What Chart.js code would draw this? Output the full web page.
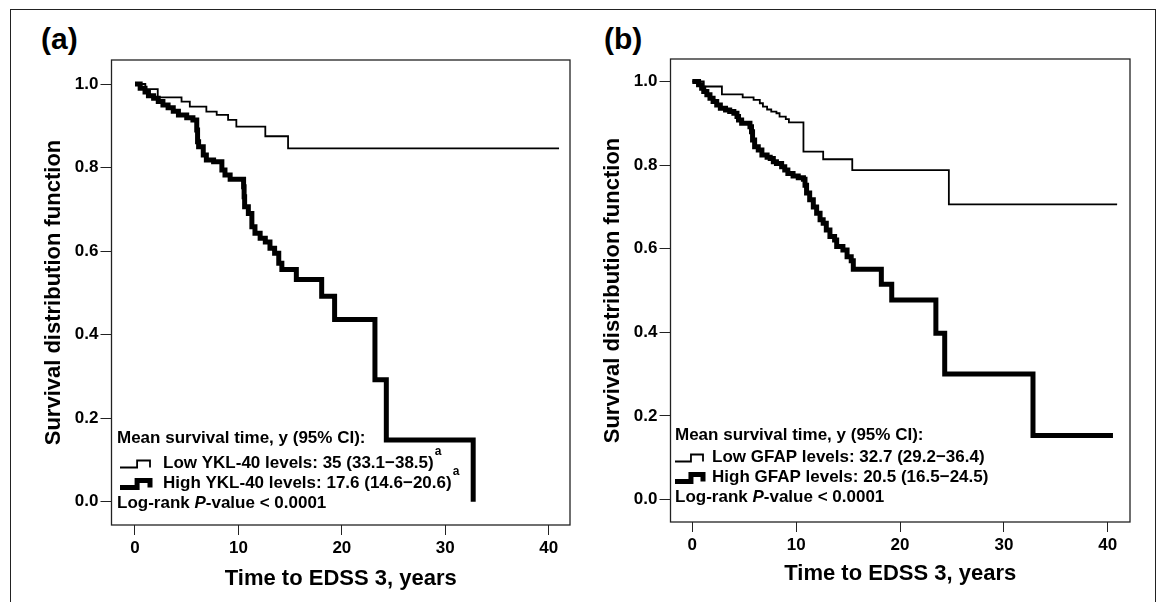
<!DOCTYPE html>
<html>
<head>
<meta charset="utf-8">
<script src="https://cdn.jsdelivr.net/npm/chart.js@4.4.1/dist/chart.umd.min.js"></script>
<style>
  html, body { margin: 0; padding: 0; background: #fff; }
  body { width: 1164px; height: 602px; position: relative; overflow: hidden; font-family: 'Liberation Sans', Arial, sans-serif; }
  .frame { position: absolute; left: 10px; top: 9px; width: 1146px; height: 700px; border: 1px solid #222; box-sizing: border-box; }
  canvas { position: absolute; top: 0; }
  #chartA { left: 0; }
  #chartB { left: 585px; }
  .tag { position: absolute; top: 24px; font-weight: bold; font-size: 30px; line-height: 1; color: #000; }
</style>
</head>
<body>
<div class="frame"></div>
<div class="tag" style="left:41px">(a)</div>
<div class="tag" style="left:604px">(b)</div>
<canvas id="chartA" width="585" height="602"></canvas>
<canvas id="chartB" width="579" height="602"></canvas>
<script>
const FONT = "'Liberation Sans', Arial, Helvetica, sans-serif";

// time (years) at each step and survival after it
const lowA_t = [0, 1.0, 2.2, 4.5, 5.3, 6.9, 7.9, 9.0, 9.8, 12.6, 14.8, 41.0];
const lowA_s = [1, 0.988, 0.968, 0.958, 0.946, 0.934, 0.926, 0.914, 0.898, 0.875, 0.846, 0.846];
const highA_t = [0, 0.5, 0.97, 1.3, 1.8, 2.25, 2.7, 3.2, 3.7, 4.2, 5.0, 5.6, 5.97, 6.05, 6.15, 6.6, 6.9, 7.6, 8.4, 8.7,
  9.2, 10.5, 10.55, 10.6, 10.96, 11.3, 11.6, 12.1, 12.6, 13.05, 13.5, 13.9, 14.2, 15.6, 18.05, 19.3, 23.2, 24.3, 32.7];
const highA_s = [1, 0.99, 0.981, 0.972, 0.966, 0.958, 0.95, 0.943, 0.935, 0.926, 0.919, 0.914, 0.89, 0.862, 0.85, 0.83, 0.818, 0.814, 0.794, 0.782,
  0.772, 0.754, 0.73, 0.706, 0.69, 0.658, 0.643, 0.631, 0.622, 0.607, 0.595, 0.571, 0.556, 0.532, 0.492, 0.436, 0.292, 0.148, 0];

const lowB_t = [0, 1.1, 2.85, 4.85, 5.9, 6.5, 6.8, 7.2, 7.6, 8.1, 8.4, 9.0, 9.3, 10.7, 12.6, 15.4, 24.7, 40.9];
const lowB_s = [1, 0.988, 0.969, 0.962, 0.956, 0.948, 0.94, 0.933, 0.928, 0.924, 0.916, 0.91, 0.902, 0.832, 0.814, 0.788, 0.706, 0.706];
const highB_t = [0, 0.6, 0.9, 1.1, 1.4, 1.7, 2.0, 2.35, 2.7, 3.2, 3.6, 4.0, 4.3, 4.45, 4.75, 5.55, 5.7, 5.8, 6.0, 6.35,
  6.7, 7.2, 7.5, 7.8, 8.1, 8.6, 8.9, 9.2, 9.7, 10.2, 10.7, 10.85, 11.0, 11.3, 11.65, 11.97, 12.3, 12.6, 12.9, 13.25,
  13.7, 13.9, 14.5, 14.9, 15.3, 15.5, 18.2, 19.2, 23.45, 24.3, 32.8, 40.5];
const highB_s = [1, 0.992, 0.984, 0.976, 0.968, 0.96, 0.952, 0.944, 0.936, 0.932, 0.928, 0.924, 0.916, 0.908, 0.9, 0.892, 0.88, 0.86, 0.844, 0.836,
  0.824, 0.819, 0.816, 0.808, 0.804, 0.796, 0.788, 0.78, 0.774, 0.77, 0.766, 0.752, 0.733, 0.717, 0.70, 0.685, 0.669, 0.661, 0.645, 0.629,
  0.621, 0.605, 0.597, 0.581, 0.571, 0.551, 0.515, 0.477, 0.398, 0.30, 0.153, 0.153];

const xTicks = [0, 10, 20, 30, 40];
const yTicks = [0, 0.2, 0.4, 0.6, 0.8, 1.0];

const xTitle = 'Time to EDSS 3, years';
const yTitle = 'Survival distribution function';
const legendHead = 'Mean survival time, y (95% CI):';
const labelsA = ['Low YKL-40 levels: 35 (33.1\u221238.5)', 'High YKL-40 levels: 17.6 (14.6\u221220.6)'];
const labelsB = ['Low GFAP levels: 32.7 (29.2\u221236.4)', 'High GFAP levels: 20.5 (16.5\u221224.5)'];

const steps = (ts, ss) => ts.map((t, i) => ({ x: t, y: ss[i] }));

function drawSym(ctx, x0, x1, yc, h, lw) {
  const xm = x0 + (x1 - x0) * 0.57;
  ctx.beginPath();
  ctx.moveTo(x0, yc + h / 2);
  ctx.lineTo(xm, yc + h / 2);
  ctx.lineTo(xm, yc - h / 2);
  ctx.lineTo(x1, yc - h / 2);
  ctx.lineTo(x1, yc + h / 2);
  ctx.lineWidth = lw;
  ctx.lineJoin = 'miter';
  ctx.strokeStyle = '#000';
  ctx.stroke();
}

function legendPlugin(lg) {
  return {
    id: 'kmLegend',
    afterDraw(chart) {
      const ctx = chart.ctx;
      ctx.save();
      ctx.fillStyle = '#000';
      ctx.textAlign = 'left';
      ctx.textBaseline = 'middle';
      ctx.font = `bold 17px ${FONT}`;
      ctx.fillText(legendHead, lg.x, lg.rows[0]);
      drawSym(ctx, lg.symX0, lg.symX1, lg.rows[1] + 1, 7, 1.8);
      drawSym(ctx, lg.symX0, lg.symX1, lg.rows[2] + 1, 7, 5);
      lg.labels.forEach((txt, i) => {
        const y = lg.rows[i + 1];
        ctx.font = `bold 17px ${FONT}`;
        ctx.fillText(txt, lg.textX, y);
        if (lg.sup) {
          const w = ctx.measureText(txt).width;
          ctx.font = `bold 12px ${FONT}`;
          ctx.fillText('a', lg.textX + w + 1, y - 11);
        }
      });
      let x = lg.x;
      const y = lg.rows[3];
      ctx.font = `bold 17px ${FONT}`;
      ctx.fillText('Log-rank ', x, y);
      x += ctx.measureText('Log-rank ').width;
      ctx.font = `italic bold 17px ${FONT}`;
      ctx.fillText('P', x, y);
      x += ctx.measureText('P').width;
      ctx.font = `bold 17px ${FONT}`;
      ctx.fillText('-value < 0.0001', x, y);
      ctx.restore();
    }
  };
}

const boxPlugin = {
  id: 'plotBox',
  afterDraw(chart) {
    const { left, top, right, bottom } = chart.chartArea;
    const ctx = chart.ctx;
    ctx.save();
    ctx.strokeStyle = '#222';
    ctx.lineWidth = 1.3;
    ctx.strokeRect(left, top, right - left, bottom - top);
    ctx.restore();
  }
};

function makePanel(id, low, high, g, lg) {
  const tickFont = { family: FONT, size: 17, weight: 'bold' };
  const titleFont = { family: FONT, size: 22, weight: 'bold' };
  new Chart(document.getElementById(id), {
    type: 'line',
    data: {
      datasets: [
        { data: low, borderColor: '#000', borderWidth: 1.8, stepped: 'before', pointRadius: 0, fill: false, borderJoinStyle: 'miter' },
        { data: high, borderColor: '#000', borderWidth: 5, stepped: 'before', pointRadius: 0, fill: false, borderJoinStyle: 'miter' }
      ]
    },
    options: {
      responsive: false,
      animation: false,
      devicePixelRatio: 1,
      layout: { padding: { top: g.top, right: g.right, left: 0, bottom: 0 } },
      plugins: { legend: { display: false }, tooltip: { enabled: false } },
      scales: {
        x: {
          type: 'linear', min: g.xMin, max: g.xMax,
          afterBuildTicks: axis => { axis.ticks = xTicks.map(v => ({ value: v })); },
          afterFit: s => { s.height = g.xHeight; s.paddingLeft = 0; s.paddingRight = 0; s.paddingTop = 0; s.paddingBottom = 0; },
          ticks: { font: tickFont, color: '#000', padding: 3, maxRotation: 0, callback: v => String(v) },
          grid: { drawOnChartArea: false, drawTicks: true, tickLength: 10, color: '#222' },
          border: { display: false },
          title: { display: true, text: xTitle, font: titleFont, color: '#000', padding: { top: 0, bottom: g.xTitlePad } }
        },
        y: {
          type: 'linear', min: g.yMin, max: g.yMax,
          afterBuildTicks: axis => { axis.ticks = yTicks.map(v => ({ value: v })); },
          afterFit: s => { s.width = g.yWidth; s.paddingLeft = 0; s.paddingRight = 0; s.paddingTop = 0; s.paddingBottom = 0; },
          ticks: { font: tickFont, color: '#000', padding: 2, callback: v => v.toFixed(1) },
          grid: { drawOnChartArea: false, drawTicks: true, tickLength: 11, color: '#222' },
          border: { display: false },
          title: { display: true, text: yTitle, font: titleFont, color: '#000', padding: { top: g.yTitlePad, bottom: 0 } }
        }
      }
    },
    plugins: [boxPlugin, legendPlugin(lg)]
  });
}

makePanel('chartA', steps(lowA_t, lowA_s), steps(highA_t, highA_s),
  { top: 60, right: 15, xHeight: 77, yWidth: 111.5, xMin: -2.272, xMax: 42.06, yMin: -0.0558, yMax: 1.0575, xTitlePad: 10, yTitlePad: 40.8 },
  { x: 117, symX0: 120, symX1: 150, textX: 163, rows: [438, 463, 483, 503], labels: labelsA, sup: true });

makePanel('chartB', steps(lowB_t, lowB_s), steps(highB_t, highB_s),
  { top: 59, right: 34, xHeight: 80, yWidth: 85.5, xMin: -2.10, xMax: 42.14, yMin: -0.0538, yMax: 1.0538, xTitlePad: 15.3, yTitlePad: 15.2 },
  { x: 90, symX0: 90, symX1: 118, textX: 127, rows: [435, 457, 477, 497], labels: labelsB, sup: false });
</script>
</body>
</html>
